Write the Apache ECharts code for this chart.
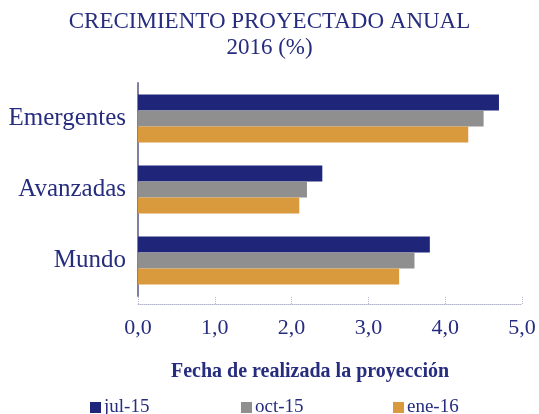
<!DOCTYPE html>
<html>
<head>
<meta charset="utf-8">
<script src="https://cdn.jsdelivr.net/npm/echarts@6/dist/echarts.min.js"></script>
<style>
html,body{margin:0;padding:0;background:#fff;}
#chart{width:539px;height:414px;}
</style>
</head>
<body>
<div id="chart"></div>
<script>
var categories = ['Emergentes', 'Avanzadas', 'Mundo'];
var seriesNames = ['jul-15', 'oct-15', 'ene-16'];
var julValues = [4.7, 2.4, 3.8];
var octValues = [4.5, 2.2, 3.6];
var eneValues = [4.3, 2.1, 3.4];
var xTicks = [0, 1, 2, 3, 4, 5];
var colors = ['#1f267a', '#8f8f8f', '#d99a3e'];

var navy = '#262c7e';
var serif = '"Liberation Serif", "DejaVu Serif", serif';
var allValues = [julValues, octValues, eneValues];

var legendLefts = [85, 236, 388];
var chart = echarts.init(document.getElementById('chart'), null, {renderer: 'canvas'});
chart.setOption({
  animation: false,
  backgroundColor: '#ffffff',
  color: colors,
  title: [
    {
      text: 'CRECIMIENTO PROYECTADO ANUAL\n2016 (%)',
      left: 'center',
      top: 4,
      textStyle: {fontFamily: serif, fontWeight: 'normal', fontSize: 23, lineHeight: 26, color: navy, align: 'center'}
    },
    {
      text: 'Fecha de realizada la proyección',
      left: 166,
      top: 357,
      textStyle: {fontFamily: serif, fontWeight: 'bold', fontSize: 20, color: navy}
    }
  ],
  legend: seriesNames.map(function (n, i) {
    return {
      data: [n],
      left: legendLefts[i],
      top: 393,
      itemWidth: 11,
      itemHeight: 11,
      icon: 'rect',
      textStyle: {fontFamily: serif, fontSize: 19, color: navy, padding: [0, 0, 0, -2]}
    };
  }),
  grid: {left: 138, right: 17, top: 83, bottom: 118, containLabel: false},
  xAxis: {
    type: 'value',
    min: xTicks[0],
    max: xTicks[xTicks.length - 1],
    interval: 1,
    offset: 8,
    axisLine: {show: true, lineStyle: {color: '#b4b6cc', type: 'dotted', width: 1}},
    axisTick: {show: true, inside: true, length: 7, lineStyle: {color: '#b4b6cc', type: 'dotted'}},
    splitLine: {show: false},
    axisLabel: {
      margin: 13,
      fontFamily: serif, fontSize: 22, color: navy,
      formatter: function (v) { return v.toFixed(1).replace('.', ','); }
    }
  },
  yAxis: {
    type: 'category',
    data: categories,
    inverse: true,
    axisLine: {show: true, lineStyle: {color: '#7f80a3', width: 2}},
    axisTick: {show: false},
    axisLabel: {margin: 12, fontFamily: serif, fontSize: 25, color: navy}
  },
  series: seriesNames.map(function (n, i) {
    return {
      name: n,
      type: 'bar',
      data: allValues[i],
      barWidth: 16,
      barGap: '0%',
      itemStyle: {color: colors[i]}
    };
  })
});
</script>
</body>
</html>
